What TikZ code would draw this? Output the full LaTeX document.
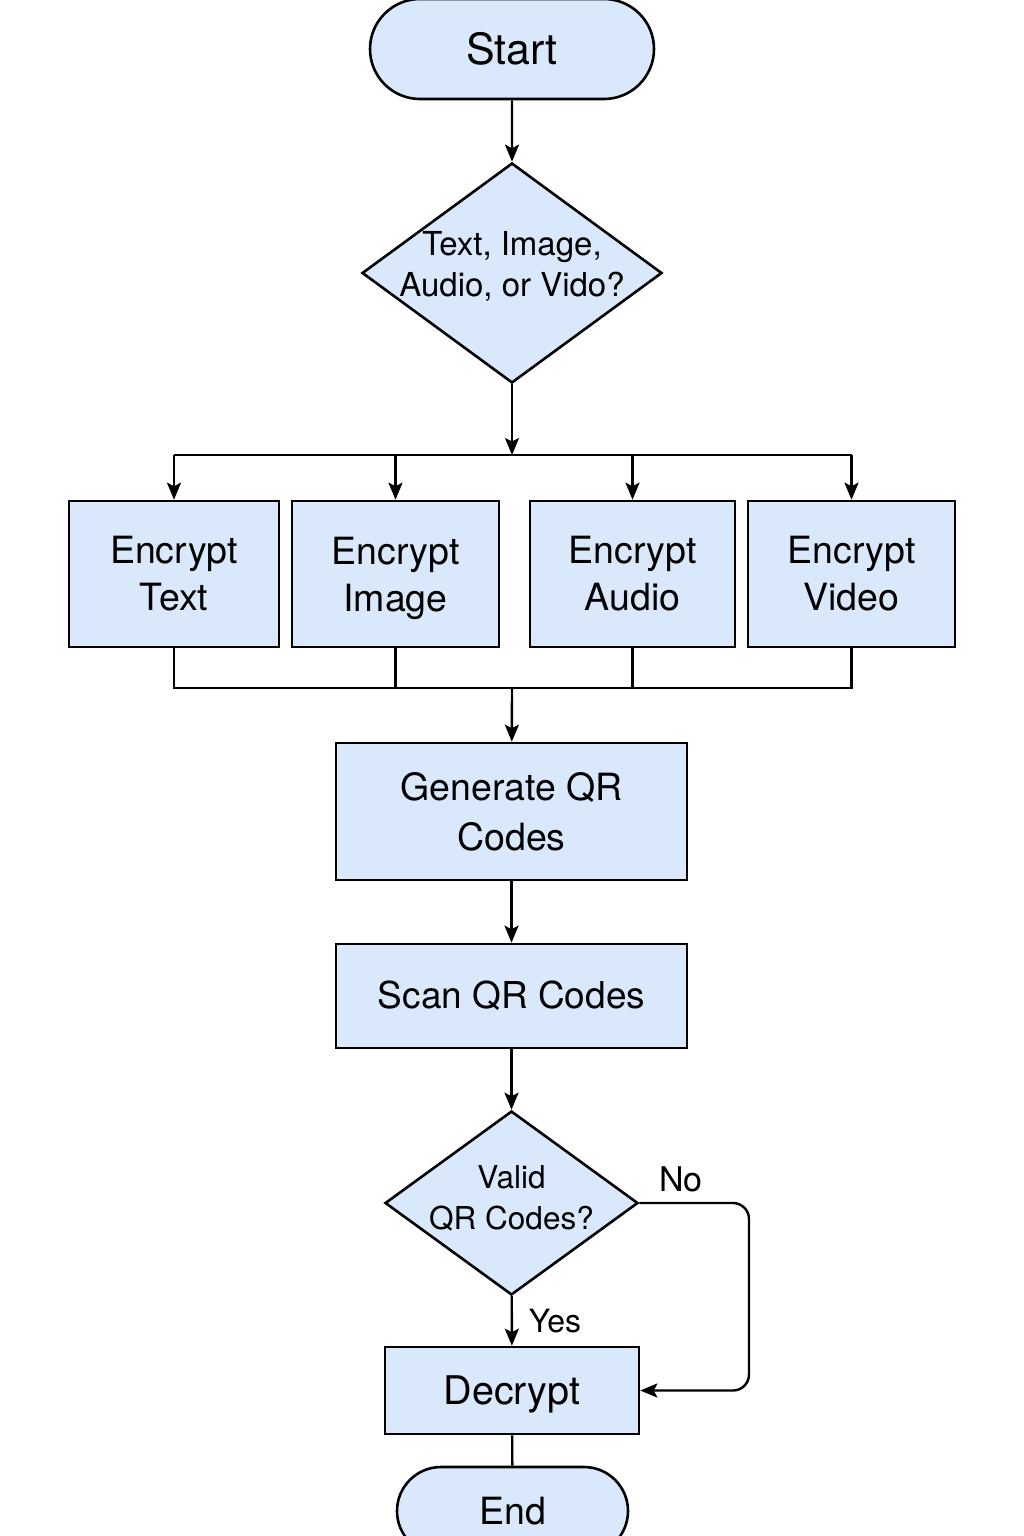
\documentclass[tikz,border=0pt]{standalone}
\usepackage{fontspec}
\setmainfont{TeX Gyre Heros}
\usetikzlibrary{shapes.geometric,shapes.misc,arrows.meta}
\definecolor{boxfill}{HTML}{DAE8FC}
\begin{document}
\begin{tikzpicture}[x=1pt,y=-1pt,
  base/.style={draw=black, fill=boxfill, line width=2.6pt, inner sep=0pt, align=center},
  term/.style={base, rounded rectangle, font=\fontsize{43pt}{50pt}\selectfont},
  procbox/.style={base, rectangle, font=\fontsize{37.5pt}{47pt}\selectfont},
  dia/.style={base, diamond},
  dtext/.style={align=center, inner sep=0pt},
  lbl/.style={inner sep=0pt},
  conn/.style={draw=black, line width=2.4pt},
  arr/.style={conn, -{Stealth[length=17pt,width=14pt,inset=3.5pt]}}
]
\useasboundingbox (0,0) rectangle (1024,1536);

\node[term, minimum width=284pt, minimum height=100pt] (start) at (512,49) {Start};

\node[dia, minimum width=300pt, minimum height=220pt] (d1) at (512,273) {};
\node[dtext, font=\fontsize{33pt}{41pt}\selectfont] (d1t) at (512,266) {Text, Image,\\Audio, or Vido?};

\node[procbox, minimum width=210pt, minimum height=146pt] (t) at (174,574) {Encrypt\\Text};
\node[procbox, minimum width=207pt, minimum height=146pt] (i) at (395.5,574) {Encrypt\\\smash{Image}};
\node[procbox, minimum width=205pt, minimum height=146pt] (a) at (632.5,574) {Encrypt\\Audio};
\node[procbox, minimum width=207pt, minimum height=146pt] (v) at (851.5,574) {Encrypt\\Video};

\node[procbox, minimum width=351pt, minimum height=137pt, font=\fontsize{37.5pt}{50pt}\selectfont] (gen) at (511.5,811.5) {Generate QR\\Codes};
\node[procbox, minimum width=351pt, minimum height=104pt, font=\fontsize{37pt}{46pt}\selectfont] (scan) at (511.5,996) {Scan QR Codes};

\node[dia, minimum width=253pt, minimum height=184pt] (d2) at (511.5,1203) {};
\node[dtext, font=\fontsize{31.5pt}{41pt}\selectfont] (d2t) at (511.5,1198) {Valid\\QR Codes?};

\node[procbox, minimum width=254pt, minimum height=87pt, font=\fontsize{39.5pt}{46pt}\selectfont] (dec) at (512,1390.5) {\raisebox{0pt}[\height][0pt]{Decrypt}};
\node[term, minimum width=231pt, minimum height=88pt, font=\fontsize{37.5pt}{44pt}\selectfont] (end) at (512.5,1511) {End};

% connectors
\draw[arr] (start) -- (d1);
\coordinate (b1) at (512,455);
\draw[arr] (d1) -- (b1);
\draw[conn] (b1 -| t.north) -- (b1 -| v.north);
\draw[arr] (b1 -| t.north) -- (t.north);
\draw[arr] (b1 -| i.north) -- (i.north);
\draw[arr] (b1 -| a.north) -- (a.north);
\draw[arr] (b1 -| v.north) -- (v.north);

\coordinate (b2) at (512,688);
\draw[conn] (t.south) |- (b2 -| v.south) -- (v.south);
\draw[conn] (i.south) -- (b2 -| i.south);
\draw[conn] (a.south) -- (b2 -| a.south);
\draw[arr] (b2) -- (gen);

\draw[arr] (gen) -- (scan);
\draw[arr] (scan) -- (d2);
\draw[arr] (d2) -- (dec);
\node[lbl, font=\fontsize{32pt}{38pt}\selectfont] (yes) at (555,1321) {Yes};

\coordinate (nc) at (749,1203);
\draw[arr, rounded corners=16pt] (d2.east) -- (nc) -- (nc |- dec.east) -- (dec.east);
\node[lbl, font=\fontsize{34pt}{40pt}\selectfont] (no) at (681,1179) {No};

\draw[conn] (dec) -- (end);
\end{tikzpicture}
\end{document}
